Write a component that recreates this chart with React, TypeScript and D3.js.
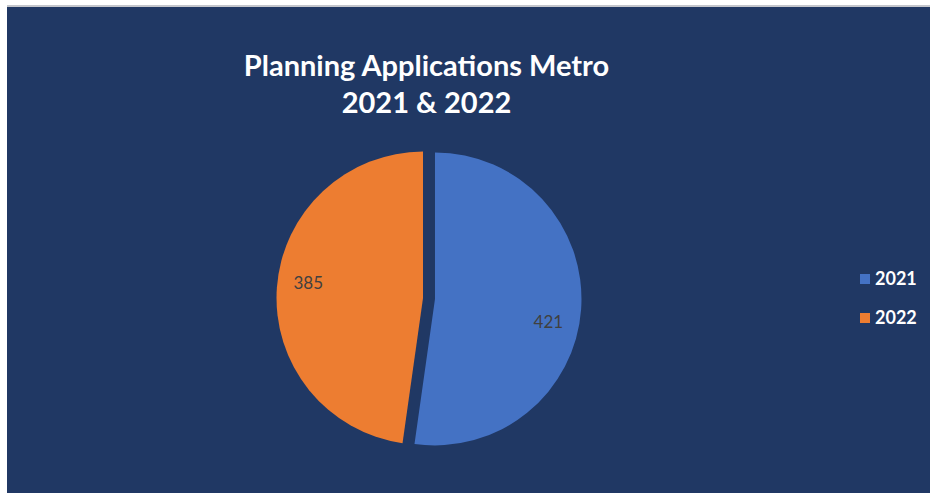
import React from 'react';
import * as d3 from 'd3';

const categories = ['2021', '2022'];
const values = [421, 385];
const colors = ['#4472C4', '#ED7D31'];
const titleLines = ['Planning Applications Metro', '2021 & 2022'];

const W = 930;
const H = 493;

export default function App() {
  const cx = 429;
  const cy = 298.5;
  const r = 146.5;
  const explode = 6;

  const pie = d3.pie<number>().sort(null).value((d) => d);
  const arcs = pie(values);
  const arcGen = d3.arc<d3.PieArcDatum<number>>().innerRadius(0).outerRadius(r);
  // label angle fraction along slice and radial fraction (Excel best-fit look)
  const labelFrac = [0.54, 0.52];
  const labelRad = 0.79;

  return (
    <svg
      width={W}
      height={H}
      style={{ position: 'absolute', left: 0, top: 0, display: 'block' }}
    >
      <rect x={0} y={0} width={W} height={H} fill="#ffffff" />
      <rect x={7} y={5} width={W - 7} height={2} fill="#c4c6cc" />
      <rect x={7} y={7} width={W - 7} height={H - 7} fill="#203864" />
      {titleLines.map((t, i) => (
        <text
          key={i}
          x={426.5}
          y={76 + i * 37}
          textAnchor="middle"
          fill="#ffffff"
          fontFamily="Lato, 'Open Sans', sans-serif"
          fontWeight={700}
          fontSize={29}
        >
          {t}
        </text>
      ))}
      {arcs.map((a, i) => {
        const mid = (a.startAngle + a.endAngle) / 2;
        const dx = Math.sin(mid) * explode;
        const dy = -Math.cos(mid) * explode;
        const la = a.startAngle + (a.endAngle - a.startAngle) * labelFrac[i];
        const lx = Math.sin(la) * r * labelRad;
        const ly = -Math.cos(la) * r * labelRad;
        return (
          <g key={categories[i]} transform={`translate(${cx + dx},${cy + dy})`}>
            <path d={arcGen(a) || ''} fill={colors[i]} />
            <text
              x={lx}
              y={ly}
              dy="0.35em"
              textAnchor="middle"
              fill="#404040"
              fontFamily="Lato, 'Open Sans', sans-serif"
              fontSize={17}
            >
              {values[i]}
            </text>
          </g>
        );
      })}
      {categories.map((c, i) => (
        <g key={c} transform={`translate(860,${274 + i * 39})`}>
          <rect x={0} y={0} width={10} height={10} fill={colors[i]} />
          <text
            x={15}
            y={5}
            dy="0.36em"
            fill="#ffffff"
            fontFamily="Lato, 'Open Sans', sans-serif"
            fontWeight={700}
            fontSize={18}
          >
            {c}
          </text>
        </g>
      ))}
    </svg>
  );
}
